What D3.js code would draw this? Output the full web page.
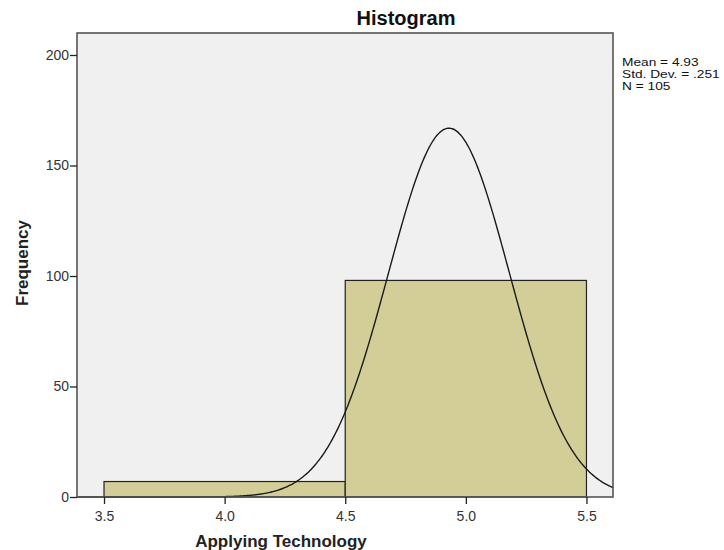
<!DOCTYPE html>
<html><head><meta charset="utf-8">
<script src="https://cdn.jsdelivr.net/npm/d3@7"></script>
<style>body{margin:0;background:#fff;} svg{display:block;font-family:"Liberation Sans",Arial,sans-serif;}</style>
</head><body><svg id="c" width="724" height="550"></svg>
<script>
const binStarts = [3.5, 4.5];
const binEnds = [4.5, 5.5];
const binCounts = [7, 98];
const xTicks = [3.5, 4.0, 4.5, 5.0, 5.5];
const yTicks = [0, 50, 100, 150, 200];
const statLabels = ["Mean = 4.93", "Std. Dev. = .251", "N = 105"];
const mean = 4.93, sd = 0.251, n = 105, binWidth = 1;

const svg = d3.select("#c");
const L = 77, R = 613, T = 33, B = 497;
const x = d3.scaleLinear().domain([3.388, 5.61]).range([L, R]);
const y = d3.scaleLinear().domain([0, 200]).range([B, 55]);

svg.append("rect").attr("x", L).attr("y", T).attr("width", R - L).attr("height", B - T)
  .attr("fill", "#f0f0f0");

const bars = binStarts.map((s, i) => ({s, e: binEnds[i], c: binCounts[i]}));
svg.selectAll("rect.bar").data(bars).enter().append("rect").attr("class", "bar")
  .attr("x", d => x(d.s)).attr("y", d => y(d.c))
  .attr("width", d => x(d.e) - x(d.s)).attr("height", d => y(0) - y(d.c))
  .attr("fill", "#d3ce97").attr("stroke", "#222").attr("stroke-width", 1.2);

// normal curve from displayed stats
const pts = d3.range(0, 401).map(i => {
  const v = 3.388 + (5.61 - 3.388) * i / 400;
  const z = (v - mean) / sd;
  return [v, n * binWidth / (sd * Math.sqrt(2 * Math.PI)) * Math.exp(-0.5 * z * z)];
});
svg.append("path").datum(pts)
  .attr("d", d3.line().x(d => x(d[0])).y(d => y(d[1])).curve(d3.curveBasis))
  .attr("fill", "none").attr("stroke", "#1a1a1a").attr("stroke-width", 1.4);

svg.append("rect").attr("x", L).attr("y", T).attr("width", R - L).attr("height", B - T)
  .attr("fill", "none").attr("stroke", "#555").attr("stroke-width", 1.6);

const xAxis = svg.append("g").attr("transform", `translate(0,${B})`)
  .call(d3.axisBottom(x).tickValues(xTicks).tickFormat(d3.format(".1f")).tickSize(7).tickSizeOuter(0));
xAxis.select(".domain").remove();
xAxis.selectAll("line").attr("stroke", "#222").attr("stroke-width", 1.3);
xAxis.selectAll("text").attr("font-size", 14).attr("fill", "#333").attr("dy", "1.0em")
  .style("font-family", "Liberation Sans, Arial, sans-serif");

const yAxis = svg.append("g").attr("transform", `translate(${L},0)`)
  .call(d3.axisLeft(y).tickValues(yTicks).tickSize(7).tickSizeOuter(0));
yAxis.select(".domain").remove();
yAxis.selectAll("line").attr("stroke", "#222").attr("stroke-width", 1.3);
yAxis.selectAll("text").attr("font-size", 14).attr("fill", "#333").attr("x", -8)
  .style("font-family", "Liberation Sans, Arial, sans-serif");

svg.append("text").attr("x", 406).attr("y", 25).attr("text-anchor", "middle")
  .attr("font-size", 20).attr("font-weight", "bold").attr("fill", "#111").text("Histogram");
svg.append("text").attr("x", 281).attr("y", 547).attr("text-anchor", "middle")
  .attr("font-size", 17).attr("font-weight", "bold").attr("fill", "#222").text("Applying Technology");
svg.append("text").attr("transform", "translate(28,263) rotate(-90)").attr("text-anchor", "middle")
  .attr("font-size", 17).attr("font-weight", "bold").attr("fill", "#222").text("Frequency");

svg.append("g").attr("transform", "translate(622,0) scale(1.32,1)")
  .selectAll("text").data(statLabels).enter().append("text")
  .attr("x", 0).attr("y", (d, i) => 66.5 + i * 12).attr("font-size", 10.4).attr("fill", "#111")
  .text(d => d);
</script></body></html>
